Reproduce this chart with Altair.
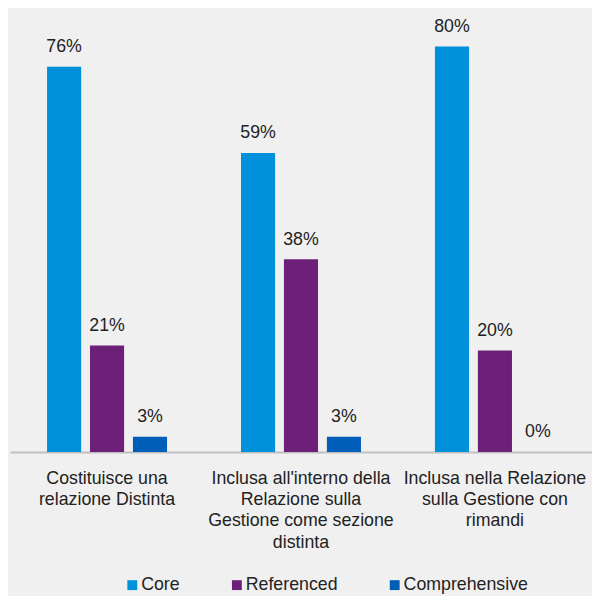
import altair as alt
import pandas as pd

categories = [
    "Costituisce una\nrelazione Distinta",
    "Inclusa all'interno della\nRelazione sulla\nGestione come sezione\ndistinta",
    "Inclusa nella Relazione\nsulla Gestione con\nrimandi",
]
series = ["Core", "Referenced", "Comprehensive"]
core = [0.76, 0.59, 0.80]
referenced = [0.21, 0.38, 0.20]
comprehensive = [0.03, 0.03, 0.00]
colors = ["#0091DA", "#6D2077", "#005EB8"]

rows = []
for i, c in enumerate(categories):
    for s, vals in zip(series, [core, referenced, comprehensive]):
        rows.append({"cat": c, "series": s, "value": vals[i]})
df = pd.DataFrame(rows)

x = alt.X("cat:N", sort=categories, title=None,
          scale=alt.Scale(paddingInner=0.337, paddingOuter=0.169),
          axis=alt.Axis(labelAngle=0, ticks=False, domainColor="#C0C0C0", domainWidth=2,
                        labelFont="Liberation Sans", labelFontSize=18, labelColor="#222222",
                        labelLineHeight=21.5, labelPadding=18, labelLimit=0,
                        labelExpr="split(datum.label, '\\n')"))
xo = alt.XOffset("series:N", sort=series,
                 scale=alt.Scale(paddingInner=0.206, paddingOuter=0.1))
y = alt.Y("value:Q", scale=alt.Scale(domain=[0, 0.868], nice=False, zero=True), axis=None)
color = alt.Color("series:N", sort=series, title=None,
                  scale=alt.Scale(domain=series, range=colors),
                  legend=alt.Legend(orient="none", direction="horizontal", legendX=115, legendY=572,
                                    symbolType="square", symbolSize=100, symbolStrokeWidth=0,
                                    labelFont="Liberation Sans", labelFontSize=18, labelColor="#222222",
                                    labelOffset=0, columnPadding=48, padding=0))

bars = alt.Chart(df).mark_bar().encode(x=x, xOffset=xo, y=y, color=color)
labels = alt.Chart(df).mark_text(baseline="alphabetic", dy=-15, font="Liberation Sans",
                                 fontSize=18, color="#222222").encode(
    x=x, xOffset=xo, y=y, text=alt.Text("value:Q", format=".0%"))

chart = (bars + labels).properties(
    width=590, height=446,
    background="#F0F0F0",
    autosize=alt.AutoSizeParams(type="none"),
    padding={"left": 2, "top": 0, "right": 0, "bottom": 142},
).configure_view(stroke=None)

chart.save("out.html", embed_options={"renderer": "svg", "actions": False})
